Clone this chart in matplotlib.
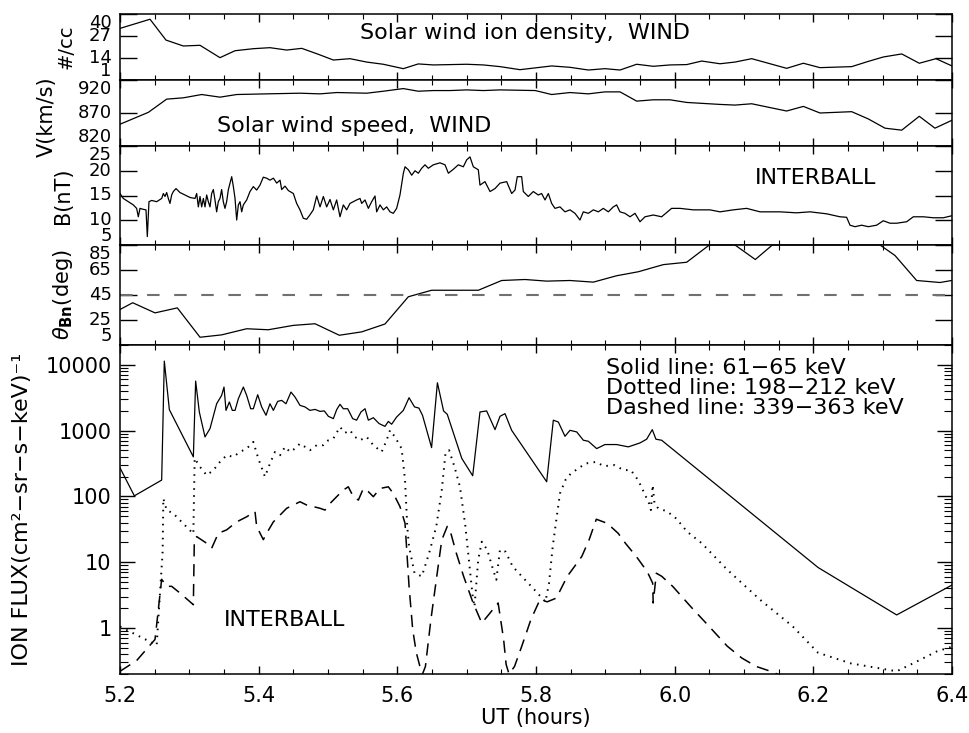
import numpy as np
import matplotlib
matplotlib.use('Agg')
import matplotlib.pyplot as plt
from matplotlib.ticker import MultipleLocator, LogLocator, NullFormatter, FixedLocator

plt.rcParams['font.family'] = ['DejaVu Sans']
plt.rcParams['font.size'] = 14
plt.rcParams['mathtext.fontset'] = 'dejavusans'

# ---- solar wind ion density (WIND), #/cc
dens_t = [5.2000, 5.2433, 5.2663, 5.2913, 5.3154, 5.3442, 5.3659, 5.3923, 5.4163, 5.4404,
          5.4621, 5.4860, 5.5077, 5.5317, 5.5558, 5.5798, 5.6086, 5.6302, 5.6519, 5.6760,
          5.7000, 5.7240, 5.7481, 5.7769, 5.8226, 5.8490, 5.8755, 5.8995, 5.9212, 5.9452,
          5.9692, 5.9933, 6.0173, 6.0390, 6.0654, 6.0870, 6.1111, 6.1615, 6.1856, 6.2096,
          6.2553, 6.2793, 6.3009, 6.3275, 6.3528, 6.3769, 6.4000]
dens_v = [31.5, 36.9, 24.6, 21.1, 21.5, 14.2, 18.3, 19.5, 20.1, 18.7,
          19.7, 16.2, 12.8, 13.6, 11.6, 10.3, 7.7, 10.5, 9.9, 10.1,
          10.3, 9.9, 8.9, 7.1, 9.3, 8.5, 6.9, 7.7, 6.9, 10.3,
          9.1, 9.9, 10.1, 12.2, 10.6, 11.6, 13.6, 7.9, 10.9, 8.3,
          8.9, 12.0, 14.6, 16.4, 10.9, 13.6, 9.3]

# ---- solar wind speed (WIND), km/s
speed_t = [5.2000, 5.2409, 5.2673, 5.2913, 5.3178, 5.3442, 5.3683, 5.4115, 5.4596, 5.4885,
           5.5125, 5.5558, 5.5798, 5.6086, 5.6302, 5.6519, 5.6760, 5.7000, 5.7240, 5.7481,
           5.7990, 5.8226, 5.8490, 5.8755, 5.8995, 5.9212, 5.9452, 5.9692, 5.9933, 6.0173,
           6.0654, 6.0870, 6.1111, 6.1615, 6.1856, 6.2096, 6.2553, 6.2793, 6.3034, 6.3275,
           6.3528, 6.3754, 6.4000]
speed_v = [853, 871, 891, 893, 898, 894, 898, 899, 900, 899,
           901, 900, 903, 907, 903, 904, 904, 905, 904, 905,
           904, 898, 901, 899, 902, 902, 888, 890, 890, 886,
           883, 882, 884, 873, 880, 870, 872, 861, 847, 844,
           865, 847, 859]

# ---- magnetic field magnitude (INTERBALL), nT
b_t = [5.2000, 5.2048, 5.2120, 5.2192, 5.2240, 5.2264, 5.2288, 5.2337, 5.2375, 5.2394,
       5.2418, 5.2457, 5.2529, 5.2601, 5.2625, 5.2649, 5.2673, 5.2697, 5.2721, 5.2745,
       5.2769, 5.2808, 5.2865, 5.2938, 5.3010, 5.3082, 5.3106, 5.3130, 5.3154, 5.3178,
       5.3202, 5.3226, 5.3250, 5.3274, 5.3298, 5.3322, 5.3346, 5.3370, 5.3394, 5.3418,
       5.3442, 5.3466, 5.3490, 5.3514, 5.3538, 5.3563, 5.3587, 5.3611, 5.3635, 5.3659,
       5.3683, 5.3707, 5.3731, 5.3755, 5.3779, 5.3827, 5.3875, 5.3923, 5.3971, 5.4019,
       5.4067, 5.4115, 5.4163, 5.4212, 5.4260, 5.4308, 5.4332, 5.4380, 5.4428, 5.4500,
       5.4548, 5.4596, 5.4644, 5.4692, 5.4740, 5.4788, 5.4837, 5.4885, 5.4933, 5.4981,
       5.5029, 5.5077, 5.5125, 5.5173, 5.5221, 5.5269, 5.5317, 5.5365, 5.5413, 5.5462,
       5.5486, 5.5534, 5.5582, 5.5630, 5.5678, 5.5702, 5.5750, 5.5798, 5.5846, 5.5894,
       5.5942, 5.5990, 5.6014, 5.6038, 5.6087, 5.6111, 5.6159, 5.6207, 5.6255, 5.6303,
       5.6351, 5.6399, 5.6447, 5.6519, 5.6615, 5.6688, 5.6736, 5.6808, 5.6880, 5.6952,
       5.7000, 5.7048, 5.7096, 5.7168, 5.7192, 5.7264, 5.7337, 5.7409, 5.7481, 5.7577,
       5.7649, 5.7697, 5.7730, 5.7793, 5.7817, 5.7889, 5.7961, 5.8033, 5.8081, 5.8130,
       5.8178, 5.8226, 5.8274, 5.8346, 5.8418, 5.8490, 5.8562, 5.8634, 5.8682, 5.8755,
       5.8827, 5.8899, 5.8971, 5.9043, 5.9115, 5.9163, 5.9211, 5.9283, 5.9356, 5.9428,
       5.9500, 5.9572, 5.9692, 5.9812, 5.9956, 6.0077, 6.0269, 6.0509, 6.0654, 6.0846,
       6.1038, 6.1231, 6.1519, 6.1759, 6.1952, 6.2192, 6.2384, 6.2480, 6.2529, 6.2601,
       6.2697, 6.2793, 6.2913, 6.3009, 6.3106, 6.3202, 6.3346, 6.3442, 6.3587, 6.3731,
       6.3875, 6.3995]
b_v = [15.4, 14.4, 13.75, 13.1, 12.4, 10.7, 12.4, 12.2, 12.1, 6.7,
       13.75, 14.0, 13.75, 14.4, 15.4, 14.8, 15.6, 14.4, 13.4, 15.1,
       15.8, 16.4, 15.6, 15.1, 14.6, 14.4, 15.4, 12.7, 14.8, 12.7,
       14.4, 12.7, 15.1, 13.75, 12.7, 15.4, 16.2, 14.1, 11.7, 13.75,
       14.4, 16.2, 13.75, 12.4, 13.75, 16.2, 17.5, 18.8, 16.8, 14.4,
       10.05, 13.1, 13.75, 11.7, 13.1, 14.1, 15.8, 16.8, 16.1, 17.1,
       18.7, 18.5, 18.1, 18.5, 17.5, 18.1, 16.2, 16.9, 16.0, 15.4,
       13.4, 12.1, 10.4, 10.2, 11.1, 12.1, 14.9, 12.7, 14.8, 12.7,
       14.2, 12.1, 14.1, 10.7, 13.1, 12.1, 13.4, 13.75, 14.1, 14.4,
       13.4, 14.1, 12.4, 13.75, 14.9, 11.7, 13.1, 12.1, 12.7, 11.7,
       11.4, 12.4, 13.75, 15.1, 19.5, 20.8, 20.2, 19.1, 20.0, 19.5,
       20.5, 21.2, 20.5, 21.2, 21.6, 21.2, 19.5, 20.3, 21.2, 20.8,
       22.2, 22.8, 20.8, 20.2, 17.1, 17.8, 15.8, 16.4, 17.5, 17.8,
       15.4, 16.1, 18.8, 18.8, 15.8, 14.8, 15.8, 15.1, 15.4, 14.1,
       15.4, 13.4, 12.4, 12.7, 11.7, 12.1, 11.4, 10.05, 11.7, 11.4,
       12.1, 11.7, 12.4, 11.7, 12.7, 13.1, 11.7, 11.4, 10.7, 11.4,
       9.7, 10.7, 11.06, 10.7, 12.4, 12.4, 12.1, 12.1, 11.7, 12.1,
       12.4, 11.7, 11.7, 11.5, 11.7, 11.3, 10.7, 10.6, 9.0, 8.7,
       9.0, 8.7, 9.0, 9.9, 9.4, 9.4, 9.7, 10.7, 10.7, 10.5,
       10.5, 10.9]

# ---- shock normal angle theta_Bn, deg
theta_t = [5.2000, 5.2183, 5.2505, 5.2827, 5.3154, 5.3466, 5.3827, 5.4139, 5.4500, 5.4813,
           5.5163, 5.5486, 5.5822, 5.6159, 5.6495, 5.6832, 5.7168, 5.7505, 5.7841, 5.8154,
           5.8490, 5.8827, 5.9163, 5.9476, 5.9836, 6.0173, 6.0500, 6.0870, 6.1163, 6.1409,
           6.2962, 6.3178, 6.3490, 6.3827, 6.3995]
theta_v = [33.4, 38.8, 30.7, 34.7, 11.2, 13.1, 18.0, 17.2, 20.7, 22.0,
           12.8, 15.5, 21.8, 43.6, 48.8, 48.8, 48.8, 56.6, 57.4, 56.1,
           56.6, 55.3, 60.4, 63.6, 69.3, 71.2, 85.0, 85.0, 73.4, 85.0,
           85.0, 76.6, 56.6, 55.0, 56.6]

# ---- ion flux (INTERBALL), (cm^2-sr-s-keV)^-1
solid_t = [5.2000, 5.2207, 5.2601, 5.2639, 5.2712, 5.3058, 5.3091, 5.3144, 5.3226, 5.3298,
           5.3394, 5.3466, 5.3500, 5.3529, 5.3577, 5.3620, 5.3659, 5.3707, 5.3779, 5.3827,
           5.3885, 5.3923, 5.3986, 5.4043, 5.4106, 5.4163, 5.4212, 5.4274, 5.4332, 5.4394,
           5.4466, 5.4524, 5.4596, 5.4668, 5.4740, 5.4813, 5.4885, 5.4947, 5.5005, 5.5077,
           5.5125, 5.5173, 5.5221, 5.5284, 5.5356, 5.5413, 5.5476, 5.5534, 5.5582, 5.5654,
           5.5736, 5.5822, 5.5870, 5.5918, 5.5990, 5.6087, 5.6169, 5.6248, 5.6311, 5.6363,
           5.6494, 5.6578, 5.6667, 5.6720, 5.6930, 5.7087, 5.7192, 5.7288, 5.7409, 5.7481,
           5.7553, 5.7649, 5.8154, 5.8250, 5.8322, 5.8418, 5.8490, 5.8587, 5.8683, 5.8755,
           5.8875, 5.8995, 5.9163, 5.9332, 5.9500, 5.9596, 5.9677, 5.9730, 5.9812, 6.2069,
           6.3202, 6.4000]
solid_v = [272, 102, 177, 11380, 2080, 399, 5660, 1920, 802, 1072,
           2560, 3430, 4590, 2030, 2720, 2030, 2030, 3050, 4590, 3430,
           2150, 2150, 3510, 2290, 1710, 2560, 2030, 2780, 2880, 2560,
           3850, 3240, 2420, 2290, 2030, 2100, 1960, 1990, 1650, 1520,
           2080, 2510, 2150, 2150, 1520, 1440, 1920, 2150, 1440, 1570,
           1280, 1160, 1380, 1250, 1610, 2030, 3160, 2290, 2200, 1710,
           552, 5330, 1990, 1770, 377, 206, 1920, 1990, 1035, 1650,
           1810, 1010, 167, 1440, 1350, 820, 1010, 955, 714, 689,
           533, 614, 614, 566, 650, 740, 1035, 740, 714, 8.3,
           1.58, 4.5]

dotted_t = [5.2000, 5.2529, 5.2615, 5.2625, 5.2673, 5.2769, 5.3058, 5.3077, 5.3154, 5.3250,
            5.3346, 5.3442, 5.3538, 5.3635, 5.3731, 5.3827, 5.3923, 5.3995, 5.4091, 5.4163,
            5.4236, 5.4308, 5.4380, 5.4452, 5.4524, 5.4596, 5.4668, 5.4740, 5.4837, 5.4933,
            5.5005, 5.5077, 5.5173, 5.5245, 5.5317, 5.5389, 5.5462, 5.5558, 5.5654, 5.5774,
            5.5846, 5.5894, 5.5966, 5.6062, 5.6111, 5.6143, 5.6169, 5.6248, 5.6353, 5.6458,
            5.6562, 5.6641, 5.6694, 5.6746, 5.6825, 5.6903, 5.6982, 5.7008, 5.7087, 5.7113,
            5.7166, 5.7218, 5.7297, 5.7375, 5.7428, 5.7480, 5.7559, 5.7664, 5.7821, 5.7979,
            5.8136, 5.8188, 5.8241, 5.8293, 5.8346, 5.8424, 5.8503, 5.8608, 5.8713, 5.8870,
            5.8975, 5.9132, 5.9263, 5.9368, 5.9473, 5.9552, 5.9631, 5.9657, 5.9683, 5.9709,
            5.9762, 5.9893, 6.0024, 6.0181, 6.0391, 6.0758, 6.1230, 6.1702, 6.2069, 6.2541,
            6.3202, 6.3466, 6.3779, 6.4000]
dotted_v = [1.05, 0.55, 14.5, 93, 62, 55, 27, 380, 281, 210,
            250, 335, 422, 399, 475, 533, 673, 376, 199, 316,
            475, 422, 566, 475, 533, 635, 566, 504, 600, 600,
            714, 757, 1137, 923, 1012, 802, 714, 802, 600, 475,
            714, 1012, 802, 533, 177, 35, 17.3, 6.8, 6.1, 13.7,
            35, 125, 449, 504, 281, 140, 35, 19, 3.0, 2.1,
            10.8, 20.5, 15.4, 8.1, 5.4, 15.4, 14.5, 8.6, 5.7, 3.8,
            2.5, 4.8, 17.3, 44, 111, 177, 223, 265, 316, 335,
            288, 299, 251, 251, 177, 118, 78, 62, 149, 78,
            66, 59, 46, 29, 19.4, 7.7, 2.7, 1.06, 0.42, 0.29,
            0.22, 0.30, 0.44, 0.52]

dashed_t = [5.2000, 5.2240, 5.2505, 5.2601, 5.2673, 5.2745, 5.2865, 5.3058, 5.3072, 5.3106,
            5.3250, 5.3322, 5.3418, 5.3538, 5.3683, 5.3827, 5.3947, 5.3971, 5.4067, 5.4115,
            5.4212, 5.4308, 5.4404, 5.4500, 5.4596, 5.4692, 5.4788, 5.4885, 5.4957, 5.5029,
            5.5125, 5.5221, 5.5293, 5.5365, 5.5438, 5.5510, 5.5582, 5.5654, 5.5750, 5.5870,
            5.5942, 5.6038, 5.6111, 5.6169, 5.6222, 5.6274, 5.6326, 5.6363, 5.6405, 5.6484,
            5.6562, 5.6641, 5.6720, 5.6772, 5.6851, 5.6956, 5.7087, 5.7218, 5.7297, 5.7454,
            5.7533, 5.7569, 5.7611, 5.7690, 5.7795, 5.7926, 5.8057, 5.8162, 5.8293, 5.8451,
            5.8555, 5.8660, 5.8765, 5.8870, 5.9027, 5.9185, 5.9290, 5.9447, 5.9604, 5.9683,
            5.9690, 5.9736, 5.9814, 5.9971, 6.0234, 6.0496, 6.0758, 6.0968, 6.1178, 6.1440,
            6.1550]
dashed_v = [0.22, 0.32, 0.67, 5.5, 4.3, 4.3, 3.4, 2.26, 21.8, 24.5,
            19.4, 16.3, 27.5, 31, 41, 49, 59, 35, 22, 27.5,
            41, 52, 66, 74, 83, 74, 70, 66, 62, 78,
            99, 125, 140, 99, 88, 132, 118, 99, 132, 140,
            111, 70, 39, 4.3, 0.94, 0.42, 0.26, 0.2, 0.26, 1.34,
            5.4, 21.8, 35, 27.5, 13.7, 6.1, 2.5, 1.19, 1.5, 2.4,
            0.67, 0.28, 0.2, 0.26, 0.53, 1.34, 2.7, 2.5, 2.85, 6.1,
            8.6, 12.2, 21.8, 45, 39, 27.5, 19.4, 12.2, 7.2, 4.8,
            2.4, 6.8, 6.1, 4.3, 2.1, 1.06, 0.53, 0.35, 0.26, 0.21,
            0.18]

energy_labels = ['Solid line: 61\u221265 keV',
                 'Dotted line: 198\u2212212 keV',
                 'Dashed line: 339\u2212363 keV']

W, H = 969, 733
fig = plt.figure(figsize=(W / 100, H / 100), dpi=100)

TXT = 16   # in-panel annotations
XTICK = 15
YTICK = 13


def panel(top, bottom):
    return fig.add_axes([120 / W, 1 - bottom / H, 832 / W, (bottom - top) / H])


def style(ax, ylen=12):
    ax.set_xlim(5.2, 6.4)
    ax.xaxis.set_major_locator(MultipleLocator(0.2))
    ax.xaxis.set_minor_locator(MultipleLocator(0.05))
    ax.tick_params(axis='x', which='major', direction='in', top=True, bottom=True,
                   length=6, width=1, labelsize=XTICK, pad=9)
    ax.tick_params(axis='x', which='minor', direction='in', top=True, bottom=True,
                   length=3.5, width=0.8)
    ax.tick_params(axis='y', which='major', direction='in', left=True, right=True,
                   length=ylen, width=1, labelsize=YTICK, pad=6)
    for s in ax.spines.values():
        s.set_linewidth(1.1)


def set_va(ax, aligns):
    for lab, va in zip(ax.get_yticklabels(), aligns):
        lab.set_va(va)


lw = 0.9

# density
ax1 = panel(14, 80)
ax1.plot(dens_t, dens_v, color='black', lw=lw)
ax1.set_ylim(1, 40)
ax1.set_yticks([1, 14, 27, 40])
style(ax1)
ax1.tick_params(labelbottom=False)
set_va(ax1, ['bottom', 'center', 'center', 'top'])
ax1.set_ylabel('#/cc', fontsize=14)
ax1.yaxis.set_label_coords(-0.054, 0.5)
ax1.text(0.2885, 0.71, 'Solar wind ion density,  WIND', transform=ax1.transAxes,
         ha='left', va='center', fontsize=TXT)

# speed
ax2 = panel(80, 146)
ax2.plot(speed_t, speed_v, color='black', lw=lw)
ax2.set_ylim(820, 920)
ax2.set_yticks([820, 870, 920])
style(ax2)
ax2.tick_params(labelbottom=False)
set_va(ax2, ['bottom', 'center', 'top'])
ax2.set_ylabel('V(km/s)', fontsize=15)
ax2.yaxis.set_label_coords(-0.076, 0.45)
ax2.text(0.1166, 0.30, 'Solar wind speed,  WIND', transform=ax2.transAxes,
         ha='left', va='center', fontsize=TXT)

# magnetic field
ax3 = panel(146, 245)
ax3.plot(b_t, b_v, color='black', lw=lw)
ax3.set_ylim(5, 25)
ax3.set_yticks([5, 10, 15, 20, 25])
style(ax3)
ax3.tick_params(labelbottom=False)
set_va(ax3, ['bottom', 'center', 'center', 'center', 'top'])
ax3.set_ylabel('B(nT)', fontsize=15)
ax3.yaxis.set_label_coords(-0.057, 0.5)
ax3.text(0.763, 0.677, 'INTERBALL', transform=ax3.transAxes,
         ha='left', va='center', fontsize=TXT)

# theta_Bn
ax4 = panel(245, 345)
ax4.plot(theta_t, theta_v, color='black', lw=lw)
ax4.axhline(45, color='#707070', lw=1.5, dashes=(6, 7))
ax4.set_ylim(5, 85)
ax4.set_yticks([5, 25, 45, 65, 85])
style(ax4)
ax4.tick_params(labelbottom=False)
set_va(ax4, ['bottom', 'center', 'center', 'center', 'top'])
ax4.set_ylabel(r'$\theta_{\mathbf{Bn}}$(deg)', fontsize=15)
ax4.yaxis.set_label_coords(-0.054, 0.5)

# ion flux
ax5 = panel(345, 674)
ax5.set_yscale('log')
ax5.plot(solid_t, solid_v, color='black', lw=lw)
ax5.plot(dotted_t, dotted_v, color='black', lw=1.4, dashes=(0.8, 2.8))
ax5.plot(dashed_t, dashed_v, color='black', lw=1.1, dashes=(8, 5))
ax5.set_ylim(0.2, 2e4)
style(ax5, ylen=11)
ax5.yaxis.set_major_locator(FixedLocator([1, 10, 100, 1000, 10000]))
ax5.set_yticklabels(['1', '10', '100', '1000', '10000'])
ax5.yaxis.set_minor_locator(LogLocator(base=10, subs=np.arange(2, 10)))
ax5.yaxis.set_minor_formatter(NullFormatter())
ax5.tick_params(axis='y', which='minor', direction='in', left=True, right=True,
                length=5.5, width=0.8)
ax5.tick_params(axis='y', which='major', labelsize=15)
ax5.xaxis.set_major_formatter(plt.FormatStrFormatter('%.1f'))
ax5.set_xlabel('UT (hours)', fontsize=XTICK, labelpad=1)
ax5.set_ylabel('ION FLUX(cm\u00b2\u2212sr\u2212s\u2212keV)\u207b\u00b9', fontsize=16)
ax5.yaxis.set_label_coords(-0.106, 0.5)
for i, lab in enumerate(energy_labels):
    ax5.text(0.584, 0.930 - 0.0605 * i, lab, transform=ax5.transAxes,
             ha='left', va='center', fontsize=TXT)
ax5.text(0.125, 0.164, 'INTERBALL', transform=ax5.transAxes,
         ha='left', va='center', fontsize=TXT)

fig.savefig('out.png', dpi=100)
